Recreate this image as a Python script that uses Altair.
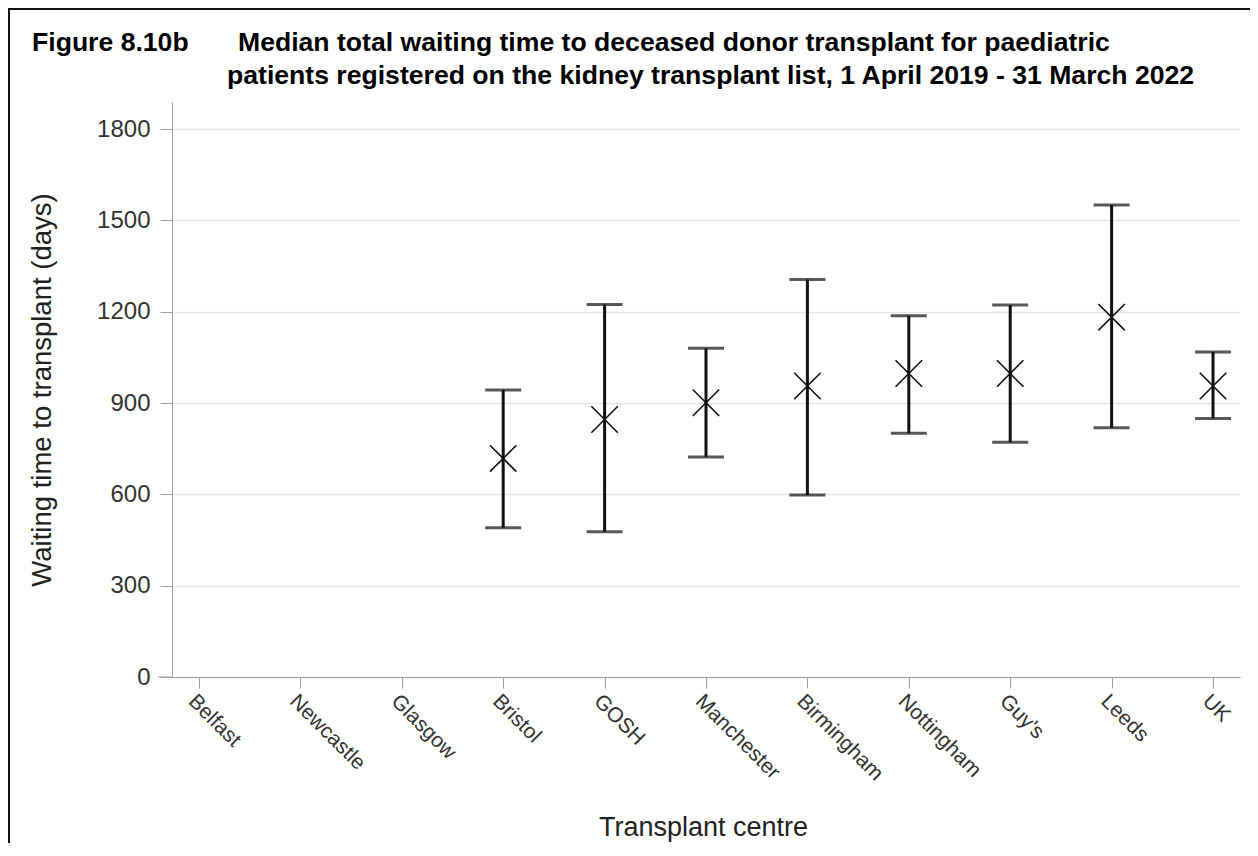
import altair as alt
import pandas as pd

centres = ["Belfast", "Newcastle", "Glasgow", "Bristol", "GOSH", "Manchester",
           "Birmingham", "Nottingham", "Guy's", "Leeds", "UK"]
median = [None, None, None, 718, 846, 901, 956, 997, 997, 1182, 956]
lower = [None, None, None, 490, 477, 723, 598, 801, 771, 819, 849]
upper = [None, None, None, 943, 1224, 1080, 1306, 1187, 1222, 1551, 1068]
y_ticks = [0, 300, 600, 900, 1200, 1500, 1800]

fig_label = "Figure 8.10b"
title_line1 = "Median total waiting time to deceased donor transplant for paediatric"
title_line2 = "patients registered on the kidney transplant list, 1 April 2019 - 31 March 2022"

FONT = "Liberation Sans"
AXIS_GREY = "#a0a0a0"

df = pd.DataFrame({"centre": centres, "median": median, "lower": lower, "upper": upper})
df = df.dropna()

x_enc = alt.X("centre:N", sort=centres,
              scale=alt.Scale(type="point", domain=centres, padding=0.266),
              axis=alt.Axis(title="Transplant centre", labelAngle=45, labelAlign="left",
                            labelBaseline="top", labelFontSize=21, labelColor="#333333",
                            labelFont=FONT, labelPadding=2, tickSize=11, tickColor=AXIS_GREY,
                            domainColor=AXIS_GREY, grid=False, titleFont=FONT,
                            titleFontSize=27, titleFontWeight="normal", titleColor="#222222",
                            titleX=531, titleY=158, titleAlign="center",
                            titleBaseline="alphabetic"))

y_scale = alt.Scale(domain=[0, 1889], nice=False, zero=True)
y_axis = alt.Axis(title="Waiting time to transplant (days)", values=y_ticks, format="d",
                  labelFontSize=24, labelColor="#333333", labelFont=FONT, labelPadding=10,
                  tickSize=12, tickColor=AXIS_GREY, domainColor=AXIS_GREY,
                  gridColor="#e6e6e6", gridWidth=1.5, titleFont=FONT, titleFontSize=27.5,
                  titleFontWeight="normal", titleColor="#222222", titleX=-130,
                  titleAlign="center", titleBaseline="middle")

base = alt.Chart(df)

bars = base.mark_rule(color="#111111", strokeWidth=3).encode(
    x=x_enc,
    y=alt.Y("lower:Q", scale=y_scale, axis=y_axis),
    y2="upper:Q",
)
cap_lo = base.mark_tick(color="#111111", thickness=3, size=36, orient="horizontal").encode(
    x=alt.X("centre:N", sort=centres), y=alt.Y("lower:Q"))
cap_hi = base.mark_tick(color="#111111", thickness=3, size=36, orient="horizontal").encode(
    x=alt.X("centre:N", sort=centres), y=alt.Y("upper:Q"))
meds = base.mark_point(shape="M-1,-1L1,1M-1,1L1,-1", size=700, filled=False,
                       color="#111111", strokeWidth=1.6, opacity=1).encode(
    x=alt.X("centre:N", sort=centres), y=alt.Y("median:Q"))

one = pd.DataFrame({"k": [0]})
frame = alt.Chart(one).mark_rect(fillOpacity=0, stroke="#111111", strokeWidth=2, clip=False).encode(
    x=alt.value(-163), x2=alt.value(1400), y=alt.value(-93), y2=alt.value(1000))
axis_stub = alt.Chart(one).mark_rule(color=AXIS_GREY, strokeWidth=1, clip=False).encode(
    x=alt.value(-14), x2=alt.value(0), y=alt.value(575))

titles = pd.DataFrame({"t": [fig_label, title_line1, title_line2],
                       "px": [-140, 66, 55], "py": [-51, -51, -18]})
title_marks = alt.Chart(titles).mark_text(font=FONT, fontSize=26.6, fontWeight="bold",
                                          align="left", baseline="alphabetic", color="#000000",
                                          clip=False).encode(
    x=alt.X("px:Q", scale=None), y=alt.Y("py:Q", scale=None), text="t:N")

chart = alt.layer(bars, cap_lo, cap_hi, meds, title_marks, axis_stub, frame).properties(
    width=1068, height=575,
    autosize=alt.AutoSizeParams(type="none"),
    padding={"left": 164, "top": 94, "right": 10, "bottom": 166},
    background="white",
).configure_view(strokeWidth=0)

chart.save("out.html", embed_options={"renderer": "svg", "actions": False})
